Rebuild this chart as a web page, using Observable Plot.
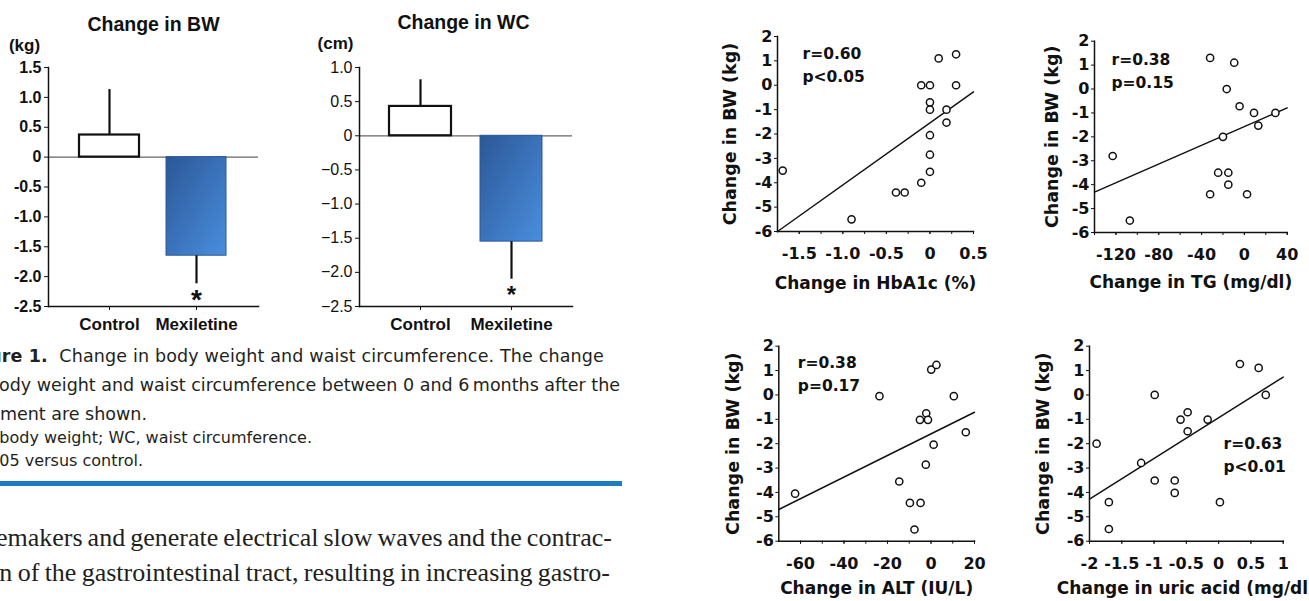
<!DOCTYPE html>
<html><head><meta charset="utf-8">
<script src="https://cdn.jsdelivr.net/npm/d3@7"></script>
<script src="https://cdn.jsdelivr.net/npm/@observablehq/plot@0.6"></script>
<style>
html,body{margin:0;padding:0;background:#fff;}
#page{position:relative;width:1309px;height:601px;overflow:hidden;background:#fff;}
.abs{position:absolute;}
.cap{position:absolute;white-space:nowrap;font-family:"DejaVu Sans",sans-serif;color:#231f20;line-height:1;}
.body{position:absolute;white-space:nowrap;font-family:"Liberation Serif","Times New Roman",serif;color:#231f20;font-size:26px;line-height:1;}
</style></head>
<body><div id="page"></div>
<script>
// ---------- bar chart data ----------
const barGroups = ["Control", "Mexiletine"];
const bwMean = [0.37, -1.65];
const bwErrEnd = [1.13, -2.12];
const wcMean = [0.43, -1.55];
const wcErrEnd = [0.82, -2.10];
const sigMarks = ["", "*"];
const bwTicks = [1.5, 1.0, 0.5, 0, -0.5, -1.0, -1.5, -2.0, -2.5];
const bwTickLabels = ["1.5", "1.0", "0.5", "0", "-0.5", "-1.0", "-1.5", "-2.0", "-2.5"];
const wcTicks = [1.0, 0.5, 0, -0.5, -1.0, -1.5, -2.0, -2.5];
const wcTickLabels = ["1.0", "0.5", "0", "\u22120.5", "\u22121.0", "\u22121.5", "\u22122.0", "\u22122.5"];

// ---------- scatter data ----------
const bwTicksY = [2, 1, 0, -1, -2, -3, -4, -5, -6];
const hbX = [-1.69, -0.90, -0.39, -0.29, -0.10, -0.10, 0, 0, 0, 0, 0, 0, 0.10, 0.30, 0.30, 0.19, 0.19];
const hbY = [-3.5, -5.5, -4.4, -4.4, -4.0, 0, 0, -0.7, -1.0, -2.05, -2.85, -3.55, 1.1, 1.27, 0, -1.0, -1.53];
const hbFitX = [-1.75, 0.5];
const hbFitY = [-6.0, -0.27];
const hbTicks = [-1.5, -1.0, -0.5, 0, 0.5];
const hbTickLabels = ["-1.5", "-1.0", "-0.5", "0", "0.5"];
const hbMinor = [-1.5, -1.25, -1.0, -0.75, -0.5, -0.25, 0, 0.25, 0.5];

const tgX = [-123, -107, -32, -32, -20, -24.5, -15, -15, -16.5, -9.5, -4.5, 9, 13, 29, 2.5];
const tgY = [-2.8, -5.5, 1.3, -4.4, -2.0, -3.5, -3.5, -4.0, 0, 1.1, -0.72, -1.0, -1.53, -1.0, -4.4];
const tgFitX = [-140, 40];
const tgFitY = [-4.31, -0.79];
const tgTicks = [-120, -80, -40, 0, 40];
const tgTickLabels = ["-120", "-80", "-40", "0", "40"];
const tgMinor = [-140, -120, -100, -80, -60, -40, -20, 0, 20, 40];

const altX = [-62.5, -23.7, -14.6, -9.7, -4.8, -7.6, -5.1, -2.2, -1.4, -2.4, 1.2, 0.1, 2.5, 10.5, 16];
const altY = [-4.05, -0.05, -3.55, -4.43, -4.43, -5.52, -1.02, -0.75, -1.02, -2.86, -2.04, 1.04, 1.23, -0.05, -1.53];
const altFitX = [-70, 20];
const altFitY = [-4.70, -0.71];
const altTicks = [-60, -40, -20, 0, 20];
const altTickLabels = ["-60", "-40", "-20", "0", "20"];
const altMinor = [-60, -50, -40, -30, -20, -10, 0, 10, 20];

const uaX = [-1.89, -1.70, -1.70, -1.2, -0.99, -0.99, -0.68, -0.68, -0.59, -0.48, -0.48, -0.17, 0.02, 0.33, 0.62, 0.73];
const uaY = [-2.0, -4.4, -5.5, -2.79, 0, -3.51, -3.51, -4.02, -1.01, -0.71, -1.49, -1.01, -4.4, 1.27, 1.11, 0];
const uaFitX = [-2, 1];
const uaFitY = [-4.27, 0.73];
const uaTicks = [-2, -1.5, -1, -0.5, 0, 0.5, 1];
const uaTickLabels = ["-2", "-1.5", "-1", "-0.5", "0", "0.5", "1"];
const uaMinor = [-2, -1.5, -1, -0.5, 0, 0.5, 1];

// ---------- text ----------
const captionLines = [
  {html: "<b>Figure 1.</b>&nbsp; Change in body weight and waist circumference. The change", right: 604, top: 358, size: 17.5, ls: 0.15},
  {html: "in body weight and waist circumference between 0 and 6\u2009months after the", right: 620, top: 387, size: 17.5, ls: 0},
  {html: "treatment are shown.", right: 147, top: 416, size: 17.5, ls: 0},
  {html: "BW, body weight; WC, waist circumference.", right: 312, top: 439, size: 16, ls: 0},
  {html: "*P&lt;0.05 versus control.", right: 143, top: 462, size: 16, ls: 0}
];
const bodyLines = [
  {text: "pacemakers and generate electrical slow waves and the contrac-", right: 612, top: 540, ws: -1.5},
  {text: "tion of the gastrointestinal tract, resulting in increasing gastro-", right: 610, top: 575, ws: -1.2}
];

const page = document.getElementById("page");
function place(el, left, top) {
  el.style.position = "absolute";
  el.style.left = left + "px";
  el.style.top = top + "px";
  page.appendChild(el);
}

// ---------- bar charts ----------
function barChart(o) {
  const rows = barGroups.map((g, i) => ({g, m: o.means[i], e: o.errs[i], s: sigMarks[i]}));
  const svg = Plot.plot({
    width: o.width, height: o.height,
    marginLeft: o.ml, marginRight: o.mr, marginTop: o.mt, marginBottom: o.mb,
    style: {fontFamily: "Liberation Sans, Arial, sans-serif", background: "transparent", color: "#111", overflow: "visible"},
    x: {domain: barGroups, paddingInner: o.pi, paddingOuter: o.po, label: null},
    y: {domain: [-2.5, o.ymax], label: null},
    marks: [
      Plot.ruleY([0], {stroke: "#666", strokeWidth: 1.2}),
      Plot.barY(rows.filter(d => d.g === "Control"), {x: "g", y: "m", fill: "white", stroke: "#111", strokeWidth: 2.2}),
      Plot.barY(rows.filter(d => d.g === "Mexiletine"), {x: "g", y: "m", fill: `url(#${o.grad})`, stroke: "#2d5a96", strokeWidth: 1}),
      Plot.ruleX(rows, {x: "g", y1: "m", y2: "e", stroke: "#111", strokeWidth: 2.2}),
      Plot.text(rows, {x: "g", y: "e", text: "s", dy: o.starDy, fontSize: o.starSize, fontWeight: "bold", fill: "#111"}),
      Plot.frame({anchor: "left", stroke: "#111", strokeWidth: 1.5}),
      Plot.frame({anchor: "bottom", stroke: "#111", strokeWidth: 1.5}),
      Plot.axisY({ticks: o.ticks, tickFormat: (d) => o.labels[o.ticks.indexOf(d)], tickSize: 4, tickPadding: 3,
                  fontSize: o.tickSize, fontWeight: o.tickWeight, label: null}),
      Plot.axisX({tickSize: 4, tickPadding: 7, fontSize: 17, fontWeight: "bold", label: null}),
      Plot.text([o.title], {text: d => d, frameAnchor: "top", textAnchor: "middle", lineAnchor: "middle", dx: o.titleDx, dy: o.titleDy, fontSize: 19.5, fontWeight: "bold", fill: "#111"}),
      Plot.text([o.unit], {text: d => d, frameAnchor: "top-left", textAnchor: "middle", lineAnchor: "middle", dx: -24, dy: o.unitDy, fontSize: 17, fontWeight: "bold", fill: "#111"})
    ]
  });
  const ns = "http://www.w3.org/2000/svg";
  const defs = document.createElementNS(ns, "defs");
  defs.innerHTML = `<linearGradient id="${o.grad}" x1="0" y1="0" x2="1" y2="1"><stop offset="0" stop-color="#2b5796"/><stop offset="1" stop-color="#4a8ede"/></linearGradient>`;
  svg.insertBefore(defs, svg.firstChild);
  place(svg, o.left, o.top);
}

barChart({left: 0, top: 0, width: 300, height: 340, ml: 48, mr: 42, mt: 67, mb: 34, pi: 0.307, po: 0.347,
  ymax: 1.5, means: bwMean, errs: bwErrEnd, ticks: bwTicks, labels: bwTickLabels, grad: "gradBW",
  tickSize: 16, tickWeight: "bold", title: "Change in BW", titleDx: 0, titleDy: -43, unit: "(kg)", unitDy: -22,
  starDy: 16, starSize: 28});
barChart({left: 300, top: 0, width: 330, height: 340, ml: 59, mr: 58, mt: 67, mb: 34, pi: 0.32, po: 0.33,
  ymax: 1.0, means: wcMean, errs: wcErrEnd, ticks: wcTicks, labels: wcTickLabels, grad: "gradWC",
  tickSize: 16, tickWeight: "normal", title: "Change in WC", titleDx: -2.5, titleDy: -45, unit: "(cm)", unitDy: -24,
  starDy: 16, starSize: 24});

// ---------- scatter plots ----------
function scatter(o) {
  const pts = o.xs.map((x, i) => ({x, y: o.ys[i]}));
  const fit = o.fx.map((x, i) => ({x, y: o.fy[i]}));
  const svg = Plot.plot({
    width: o.width, height: o.height,
    marginLeft: o.ml, marginRight: o.mr, marginTop: o.mt, marginBottom: o.mb,
    style: {fontFamily: "DejaVu Sans, sans-serif", background: "transparent", color: "#111", overflow: "visible"},
    x: {domain: o.domain, label: null},
    y: {domain: [-6, 2], label: null},
    marks: [
      Plot.frame({anchor: "left", stroke: "#111", strokeWidth: 1.5}),
      Plot.frame({anchor: "bottom", stroke: "#111", strokeWidth: 1.5}),
      Plot.axisY({ticks: bwTicksY, tickFormat: d => String(d), tickSize: 3, tickPadding: 2, fontSize: 16, fontWeight: "bold", label: null}),
      Plot.axisX({ticks: o.minor, tickFormat: () => "", tickSize: 3, label: null}),
      Plot.axisX({ticks: o.ticks, tickFormat: d => o.labels[o.ticks.indexOf(d)], tickSize: 3, tickPadding: 13, fontSize: 16, fontWeight: "bold", label: null}),
      Plot.line(fit, {x: "x", y: "y", stroke: "#111", strokeWidth: 1.5}),
      Plot.dot(pts, {x: "x", y: "y", r: 3.6, stroke: "#111", strokeWidth: 1.5, fill: "white"}),
      Plot.text([o.stat], {text: d => d, frameAnchor: "top-left", textAnchor: "start", lineAnchor: "top", dx: o.sdx, dy: o.sdy,
        fontSize: 15.5, fontWeight: "bold", lineHeight: 1.5, fill: "#111"}),
      Plot.text([o.xlabel], {text: d => d, frameAnchor: "bottom", textAnchor: "middle", lineAnchor: "middle", dy: o.xldy, fontSize: 17, fontWeight: "bold", fill: "#111"}),
      Plot.text(["Change in BW (kg)"], {text: d => d, frameAnchor: "left", textAnchor: "middle", lineAnchor: "middle", dx: o.yldx, rotate: -90, fontSize: 17.5, fontWeight: "bold", fill: "#111"})
    ]
  });
  place(svg, o.left, o.top);
}

scatter({left: 690, top: 0, width: 310, height: 300, ml: 87, mr: 27, mt: 36, mb: 69,
  xs: hbX, ys: hbY, fx: hbFitX, fy: hbFitY, domain: [-1.75, 0.5], ticks: hbTicks, labels: hbTickLabels, minor: hbMinor,
  stat: "r=0.60\np<0.05", sdx: 25, sdy: 6, xlabel: "Change in HbA1c (%)", xldy: 52, yldx: -47});
scatter({left: 1000, top: 0, width: 309, height: 300, ml: 94, mr: 22.3, mt: 40.7, mb: 68,
  xs: tgX, ys: tgY, fx: tgFitX, fy: tgFitY, domain: [-140, 40], ticks: tgTicks, labels: tgTickLabels, minor: tgMinor,
  stat: "r=0.38\np=0.15", sdx: 17, sdy: 7, xlabel: "Change in TG (mg/dl)", xldy: 50, yldx: -42});
scatter({left: 690, top: 300, width: 310, height: 301, ml: 88.3, mr: 26, mt: 45.7, mb: 60.3,
  xs: altX, ys: altY, fx: altFitX, fy: altFitY, domain: [-70, 20], ticks: altTicks, labels: altTickLabels, minor: altMinor,
  stat: "r=0.38\np=0.17", sdx: 19, sdy: 5, xlabel: "Change in ALT (IU/L)", xldy: 47, yldx: -45});
scatter({left: 1000, top: 300, width: 309, height: 301, ml: 89, mr: 26.3, mt: 45.7, mb: 60.3,
  xs: uaX, ys: uaY, fx: uaFitX, fy: uaFitY, domain: [-2, 1], ticks: uaTicks, labels: uaTickLabels, minor: uaMinor,
  stat: "r=0.63\np<0.01", sdx: 134, sdy: 86, xlabel: "Change in uric acid (mg/dl)", xldy: 47, yldx: -46});

// ---------- caption & body text ----------
captionLines.forEach(l => {
  const d = document.createElement("div");
  d.className = "cap";
  d.innerHTML = l.html;
  d.style.fontSize = l.size + "px";
  d.style.letterSpacing = l.ls + "px";
  d.style.right = (1309 - l.right) + "px";
  d.style.top = (l.top - l.size * 0.55) + "px";
  page.appendChild(d);
});
const rule = document.createElement("div");
rule.className = "abs";
rule.style.cssText = "left:0;top:481px;width:622px;height:5px;background:#1b7cc4;";
page.appendChild(rule);
bodyLines.forEach(l => {
  const d = document.createElement("div");
  d.className = "body";
  d.textContent = l.text;
  d.style.wordSpacing = l.ws + "px";
  d.style.right = (1309 - l.right) + "px";
  d.style.top = (l.top - 15) + "px";
  page.appendChild(d);
});
</script>
</body></html>
